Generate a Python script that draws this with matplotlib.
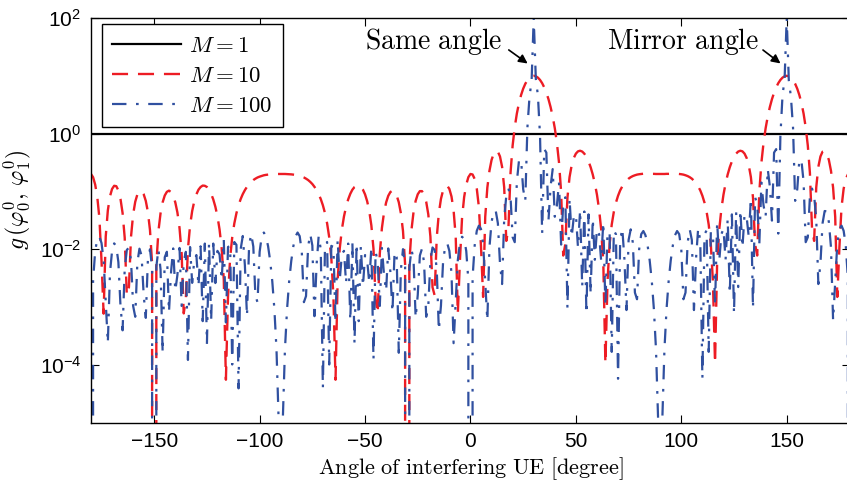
import numpy as np
import matplotlib
matplotlib.use("Agg")
import matplotlib.pyplot as plt
from matplotlib.ticker import NullLocator

plt.rcParams['font.family'] = ['Liberation Sans', 'DejaVu Sans']
plt.rcParams['mathtext.fontset'] = 'cm'

# Angle of the interfering UE, one sample per degree
angles = np.arange(-180, 181)

# Normalized interference gain g for M = 10 antennas
gain_m10 = [
    0.2, 0.176, 0.131, 0.0796, 0.0344, 0.00633, 0.000765, 0.0165, 0.0468, 0.0816,   # -180
    0.11, 0.125, 0.123, 0.104, 0.0741, 0.0421, 0.0158, 0.00159, 0.00219, 0.0165,    # -170
    0.04, 0.0662, 0.0883, 0.101, 0.101, 0.0892, 0.0685, 0.044, 0.0213, 0.00559,     # -160
    0, 0.00548, 0.0206, 0.0418, 0.0648, 0.0849, 0.0982, 0.103, 0.0973, 0.0837,      # -150
    0.0644, 0.0431, 0.0233, 0.00845, 0.000773, 0.00138, 0.0101, 0.0256, 0.0456, 0.0676,  # -140
    0.0888, 0.107, 0.119, 0.126, 0.125, 0.119, 0.107, 0.0908, 0.0727, 0.0542,       # -130
    0.0368, 0.0218, 0.0103, 0.00297, 5.5e-05, 0.00152, 0.00703, 0.0161, 0.028, 0.042,  # -120
    0.0574, 0.0735, 0.0896, 0.105, 0.12, 0.134, 0.146, 0.157, 0.166, 0.174,         # -110
    0.18, 0.185, 0.19, 0.193, 0.195, 0.197, 0.198, 0.199, 0.2, 0.2,                 # -100
    0.2,                                                                            # -90
    0.2, 0.2, 0.199, 0.198, 0.197, 0.195, 0.193, 0.19, 0.185, 0.18,                 # -89
    0.174, 0.166, 0.157, 0.146, 0.134, 0.12, 0.105, 0.0896, 0.0735, 0.0574,         # -79
    0.042, 0.028, 0.0161, 0.00703, 0.00152, 5.5e-05, 0.00297, 0.0103, 0.0218, 0.0368,  # -69
    0.0542, 0.0727, 0.0908, 0.107, 0.119, 0.125, 0.126, 0.119, 0.107, 0.0888,       # -59
    0.0676, 0.0456, 0.0256, 0.0101, 0.00138, 0.000773, 0.00845, 0.0233, 0.0431, 0.0644,  # -49
    0.0837, 0.0973, 0.103, 0.0982, 0.0849, 0.0648, 0.0418, 0.0206, 0.00548, 0,      # -39
    0.00559, 0.0213, 0.044, 0.0685, 0.0892, 0.101, 0.101, 0.0883, 0.0662, 0.04,     # -29
    0.0165, 0.00219, 0.00159, 0.0158, 0.0421, 0.0741, 0.104, 0.123, 0.125, 0.11,    # -19
    0.0816, 0.0468, 0.0165, 0.000765, 0.00633, 0.0344, 0.0796, 0.131, 0.176, 0.2,   # -9
    0.196, 0.164, 0.111, 0.0535, 0.011, 0.00149, 0.0362, 0.116, 0.227, 0.349,       # 1
    0.449, 0.502, 0.487, 0.402, 0.266, 0.117, 0.0139, 0.0228, 0.209, 0.623,         # 11
    1.29, 2.22, 3.36, 4.64, 5.98, 7.27, 8.39, 9.27, 9.82, 10,                       # 21
    9.82, 9.29, 8.48, 7.46, 6.3, 5.1, 3.94, 2.88, 1.97, 1.24,                       # 31
    0.688, 0.315, 0.0979, 0.00776, 0.0122, 0.0784, 0.177, 0.283, 0.378, 0.45,       # 41
    0.493, 0.505, 0.489, 0.45, 0.395, 0.33, 0.262, 0.196, 0.137, 0.0875,            # 51
    0.0489, 0.0219, 0.00597, 0.000105, 0.00276, 0.0122, 0.0266, 0.0444, 0.0639, 0.084,  # 61
    0.104, 0.122, 0.139, 0.153, 0.166, 0.176, 0.184, 0.19, 0.195, 0.198,            # 71
    0.2, 0.202, 0.202, 0.202, 0.202, 0.201, 0.201, 0.2, 0.2, 0.2,                   # 81
    0.2, 0.2, 0.201, 0.201, 0.202, 0.202, 0.202, 0.202, 0.2, 0.198,                 # 91
    0.195, 0.19, 0.184, 0.176, 0.166, 0.153, 0.139, 0.122, 0.104, 0.084,            # 101
    0.0639, 0.0444, 0.0266, 0.0122, 0.00276, 0.000105, 0.00597, 0.0219, 0.0489, 0.0875,  # 111
    0.137, 0.196, 0.262, 0.33, 0.395, 0.45, 0.489, 0.505, 0.493, 0.45,              # 121
    0.378, 0.283, 0.177, 0.0784, 0.0122, 0.00776, 0.0979, 0.315, 0.688, 1.24,       # 131
    1.97, 2.88, 3.94, 5.1, 6.3, 7.46, 8.48, 9.29, 9.82, 10,                         # 141
    9.82, 9.27, 8.39, 7.27, 5.98, 4.64, 3.36, 2.22, 1.29, 0.623,                    # 151
    0.209, 0.0228, 0.0139, 0.117, 0.266, 0.402, 0.487, 0.502, 0.449, 0.349,         # 161
    0.227, 0.116, 0.0362, 0.00149, 0.011, 0.0535, 0.111, 0.164, 0.196, 0.2,         # 171
]

# Normalized interference gain g for M = 100 antennas
gain_m100 = [
    0, 0.00288, 0.0093, 0.015, 0.0164, 0.0128, 0.00644, 0.00122, 0.000236, 0.00384,   # -180
    0.0093, 0.0126, 0.0112, 0.00597, 0.00105, 0.000394, 0.00455, 0.00967, 0.0107, 0.00636,  # -170
    0.00104, 0.000676, 0.00584, 0.0102, 0.00776, 0.00162, 0.000647, 0.0066, 0.00995, 0.0047,  # -160
    0, 0.00494, 0.01, 0.00446, 0.000161, 0.00726, 0.00901, 0.000812, 0.0041, 0.0103,   # -150
    0.00189, 0.00358, 0.0105, 0.00104, 0.00609, 0.00899, 0.000121, 0.0109, 0.00261, 0.00643,  # -140
    0.00792, 0.00228, 0.0112, 0.000568, 0.0125, 0.000229, 0.0129, 0.000578, 0.0125, 0.00259,  # -130
    0.00935, 0.00809, 0.00294, 0.0146, 0.000539, 0.0109, 0.0114, 0.000101, 0.0133, 0.0119,  # -120
    3.9e-05, 0.00994, 0.0169, 0.00529, 0.000692, 0.0116, 0.0183, 0.0111, 0.00154, 0.00121,  # -110
    0.00897, 0.0168, 0.0194, 0.0166, 0.0113, 0.00626, 0.00277, 0.000908, 0.000182, 1.14e-05,  # -100
    0,                                                                                   # -90
    1.14e-05, 0.000182, 0.000908, 0.00277, 0.00626, 0.0113, 0.0166, 0.0194, 0.0168, 0.00897,  # -89
    0.00121, 0.00154, 0.0111, 0.0183, 0.0116, 0.000692, 0.00529, 0.0169, 0.00994, 3.9e-05,  # -79
    0.0119, 0.0133, 0.000101, 0.0114, 0.0109, 0.000539, 0.0146, 0.00294, 0.00809, 0.00935,  # -69
    0.00259, 0.0125, 0.000578, 0.0129, 0.000229, 0.0125, 0.000568, 0.0112, 0.00228, 0.00792,  # -59
    0.00643, 0.00261, 0.0109, 0.000121, 0.00899, 0.00609, 0.00104, 0.0105, 0.00358, 0.00189,  # -49
    0.0103, 0.0041, 0.000812, 0.00901, 0.00726, 0.000161, 0.00446, 0.01, 0.00494, 0,    # -39
    0.0047, 0.00995, 0.0066, 0.000647, 0.00162, 0.00776, 0.0102, 0.00584, 0.000676, 0.00104,  # -29
    0.00636, 0.0107, 0.00967, 0.00455, 0.000394, 0.00105, 0.00597, 0.0112, 0.0126, 0.0093,  # -19
    0.00384, 0.000236, 0.00122, 0.00644, 0.0128, 0.0164, 0.015, 0.0093, 0.00288, 0,    # -9
    0.00321, 0.0116, 0.0208, 0.0255, 0.0223, 0.0126, 0.00267, 0.000582, 0.0107, 0.0294,  # 1
    0.0452, 0.0457, 0.0281, 0.00569, 0.00249, 0.0336, 0.0844, 0.112, 0.0804, 0.0161,   # 11
    0.0132, 0.147, 0.338, 0.356, 0.109, 0.0686, 1.26, 4.32, 8.26, 100,                 # 21
    8.86, 4.53, 0.903, 0.0186, 0.539, 0.468, 0.0312, 0.122, 0.243, 0.0364,             # 31
    0.0572, 0.142, 0.012, 0.0611, 0.079, 0.000937, 0.0756, 0.0162, 0.036, 0.0401,      # 41
    0.0106, 0.0474, 0.00221, 0.0449, 0.000762, 0.04, 0.00167, 0.0336, 0.00655, 0.0223,  # 51
    0.0182, 0.00623, 0.0294, 0.00103, 0.0197, 0.0197, 0.000167, 0.0211, 0.0181, 5.72e-05,  # 61
    0.014, 0.023, 0.00697, 0.000883, 0.0144, 0.022, 0.013, 0.00177, 0.00136, 0.00987,  # 71
    0.0182, 0.0206, 0.0174, 0.0117, 0.00641, 0.00281, 0.000916, 0.000183, 1.14e-05, 0,  # 81
    1.14e-05, 0.000183, 0.000916, 0.00281, 0.00641, 0.0117, 0.0174, 0.0206, 0.0182, 0.00987,  # 91
    0.00136, 0.00177, 0.013, 0.022, 0.0144, 0.000883, 0.00697, 0.023, 0.014, 5.72e-05,  # 101
    0.0181, 0.0211, 0.000167, 0.0197, 0.0197, 0.00103, 0.0294, 0.00623, 0.0182, 0.0223,  # 111
    0.00655, 0.0336, 0.00167, 0.04, 0.000762, 0.0449, 0.00221, 0.0474, 0.0106, 0.0401,  # 121
    0.036, 0.0162, 0.0756, 0.000937, 0.079, 0.0611, 0.012, 0.142, 0.0572, 0.0364,      # 131
    0.243, 0.122, 0.0312, 0.468, 0.539, 0.0186, 0.903, 4.53, 8.86, 100,                # 141
    8.26, 4.32, 1.26, 0.0686, 0.109, 0.356, 0.338, 0.147, 0.0132, 0.0161,              # 151
    0.0804, 0.112, 0.0844, 0.0336, 0.00249, 0.00569, 0.0281, 0.0457, 0.0452, 0.0294,   # 161
    0.0107, 0.000582, 0.00267, 0.0126, 0.0223, 0.0255, 0.0208, 0.0116, 0.00321, 0,     # 171
]

# Single antenna: no spatial separation at all
gain_m1 = np.ones(len(angles))

labels = [r'$M=1$', r'$M=10$', r'$M=100$']
xtick_values = [-150, -100, -50, 0, 50, 100, 150]
ytick_values = [1e-4, 1e-2, 1e0, 1e2]

fig = plt.figure(figsize=(8.47, 4.87), dpi=100)
ax = fig.add_axes([0.1074, 0.1324, 0.8961, 0.8306])

ax.plot(angles, gain_m1, color='k', lw=1.6, label=labels[0])
ax.plot(angles, gain_m10, color='#ed1c24', lw=1.7, linestyle=(0, (6.8, 4.2)), label=labels[1])
ax.plot(angles, gain_m100, color='#3050a0', lw=1.6, linestyle=(0, (6.5, 4.3, 1.2, 4.3)), label=labels[2])

ax.set_yscale('log')
ax.set_xlim(-180, 180)
ax.set_ylim(1e-5, 1e2)
ax.set_xticks(xtick_values)
ax.set_yticks(ytick_values)
ax.yaxis.set_minor_locator(NullLocator())
ax.tick_params(direction='in', length=5.5, width=0.8, labelsize=15,
               top=True, right=True, pad=7)
for side in ax.spines.values():
    side.set_linewidth(1.0)

ax.set_xlabel(r'$\mathrm{Angle\ of\ interfering\ UE\ [degree]}$', fontsize=16, labelpad=3)
ax.set_ylabel(r'$g\,(\varphi_0^0,\,\varphi_1^0)$', fontsize=17)
ax.yaxis.set_label_coords(-0.076, 0.55)

# Arrows pointing at the two main lobes
ax.text(15.3, 29.0, r'$\mathrm{Same\ angle}$', fontsize=20, ha='right', va='baseline')
ax.annotate('', xy=(28.2, 15.3), xytext=(17.1, 29.9),
            arrowprops=dict(arrowstyle='-|>', color='k', lw=1.2, mutation_scale=13))
ax.text(136.8, 29.0, r'$\mathrm{Mirror\ angle}$', fontsize=20, ha='right', va='baseline')
ax.annotate('', xy=(148.1, 15.3), xytext=(137.7, 29.9),
            arrowprops=dict(arrowstyle='-|>', color='k', lw=1.2, mutation_scale=13))

leg = ax.legend(loc='upper left', bbox_to_anchor=(0.0145, 0.985), borderaxespad=0,
                fontsize=16.5, handlelength=3.0, handletextpad=0.35, borderpad=0.45,
                labelspacing=0.3, fancybox=False, framealpha=1, edgecolor='k')
leg.get_frame().set_linewidth(1.0)

fig.savefig('out.png', dpi=100)
